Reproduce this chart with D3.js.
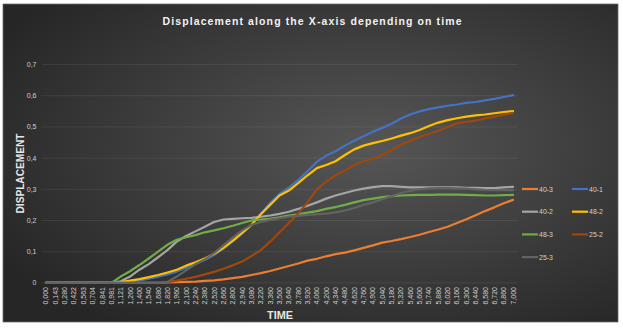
<!DOCTYPE html>
<html>
<head>
<meta charset="utf-8">
<script src="https://cdn.jsdelivr.net/npm/d3@7"></script>
<style>
  html, body { margin: 0; padding: 0; background: #ffffff; }
  svg { display: block; }
</style>
</head>
<body>
<div id="chart"></div>
<script>
// Displacement along the X-axis depending on time

const timeLabels = ['0,000','0,143','0,280','0,422','0,563','0,704','0,841','0,981','1,121','1,260',
    '1,400','1,540','1,680','1,820','1,960','2,100','2,240','2,380','2,520','2,660',
    '2,800','2,940','3,080','3,220','3,360','3,500','3,640','3,780','3,920','4,060',
    '4,200','4,340','4,480','4,620','4,760','4,900','5,040','5,180','5,320','5,460',
    '5,600','5,740','5,880','6,020','6,160','6,300','6,440','6,580','6,720','6,860','7,000'];

const yTicks = [0, 0.1, 0.2, 0.3, 0.4, 0.5, 0.6, 0.7];

const s40_3 = [0,0,0,0,0,0,0,0,0,0, 0,0,0,0.001,0.002,0.003,0.004,0.006,0.008,0.011,
    0.015,0.019,0.025,0.031,0.038,0.046,0.054,0.062,0.071,0.077, 0.085,0.092,0.097,0.104,0.112,0.12,0.129,0.134,0.14,0.147,
    0.154,0.163,0.171,0.18,0.192,0.204,0.217,0.23,0.242,0.255,0.266];
const s40_1 = [0,0,0,0,0,0,0,0,0,0.004, 0.008,0.013,0.02,0.027,0.036,0.048,0.06,0.073,0.09,0.11,
    0.133,0.158,0.187,0.222,0.256,0.285,0.305,0.33,0.358,0.388, 0.408,0.422,0.44,0.456,0.47,0.485,0.497,0.51,0.527,0.54,
    0.55,0.557,0.563,0.568,0.572,0.577,0.58,0.585,0.59,0.596,0.602];
const s40_2 = [0,0,0,0,0,0,0,0,0.005,0.02, 0.042,0.06,0.082,0.105,0.132,0.15,0.165,0.18,0.195,0.203,
    0.205,0.207,0.208,0.212,0.216,0.221,0.228,0.237,0.247,0.258, 0.27,0.28,0.288,0.296,0.302,0.307,0.31,0.31,0.308,0.306,
    0.306,0.306,0.306,0.306,0.306,0.305,0.305,0.304,0.304,0.306,0.308];
const s48_2 = [0,0,0,0,0,0,0,0,0.002,0.007, 0.012,0.018,0.025,0.033,0.042,0.055,0.066,0.078,0.093,0.112,
    0.135,0.16,0.186,0.22,0.25,0.28,0.296,0.32,0.345,0.368, 0.378,0.39,0.41,0.428,0.44,0.448,0.455,0.463,0.472,0.48,
    0.49,0.503,0.514,0.522,0.528,0.533,0.537,0.54,0.544,0.548,0.551];
const s48_3 = [0,0,0,0,0,0,0,0,0.02,0.037, 0.057,0.078,0.1,0.122,0.138,0.146,0.153,0.162,0.168,0.175,
    0.183,0.192,0.2,0.203,0.205,0.21,0.216,0.22,0.225,0.23, 0.237,0.243,0.25,0.258,0.265,0.27,0.275,0.278,0.28,0.281,
    0.282,0.282,0.283,0.283,0.283,0.282,0.281,0.28,0.28,0.281,0.282];
const s25_2 = [0,0,0,0,0,0,0,0,0,0, 0,0,0,0.002,0.007,0.013,0.019,0.027,0.035,0.045,
    0.056,0.068,0.086,0.105,0.132,0.162,0.192,0.222,0.258,0.3, 0.325,0.345,0.36,0.378,0.39,0.398,0.41,0.425,0.443,0.456,
    0.468,0.478,0.488,0.5,0.512,0.516,0.52,0.527,0.533,0.539,0.545];
const s25_3 = [0,0,0,0,0,0,0,0,0,0, 0,0,0,0.003,0.02,0.04,0.06,0.075,0.095,0.12,
    0.145,0.168,0.186,0.195,0.202,0.207,0.212,0.215,0.218,0.22, 0.222,0.226,0.232,0.24,0.25,0.258,0.268,0.278,0.288,0.295,
    0.3,0.303,0.304,0.304,0.303,0.302,0.3,0.298,0.297,0.297,0.297];

const seriesNames = ['40-3', '40-1', '40-2', '48-2', '48-3', '25-2', '25-3'];
const seriesValues = [s40_3, s40_1, s40_2, s48_2, s48_3, s25_2, s25_3];
const seriesColors = ['#ED7D31', '#4472C4', '#A5A5A5', '#FFC000', '#70AD47', '#9E480E', '#636363'];

function drawChart() {
    const width = 623, height = 328;
    const svg = d3.select('#chart').append('svg')
        .attr('width', width)
        .attr('height', height);

    const defs = svg.append('defs');
    const grad = defs.append('radialGradient')
        .attr('id', 'bg')
        .attr('cx', '60%').attr('cy', '45%').attr('r', '70%');
    grad.append('stop').attr('offset', '0%').attr('stop-color', '#565656');
    grad.append('stop').attr('offset', '100%').attr('stop-color', '#262626');

    // chart area
    svg.append('rect')
        .attr('x', 3).attr('y', 4)
        .attr('width', 615).attr('height', 318)
        .attr('fill', 'url(#bg)')
        .attr('stroke', '#6b6b6b')
        .attr('stroke-width', 0.75);

    const x = d3.scalePoint()
        .domain(timeLabels)
        .range([41.3, 517.7])
        .padding(0.5);

    const y = d3.scaleLinear()
        .domain([0, 0.7])
        .range([282.8, 64.6]);

    // gridlines
    svg.append('g')
        .selectAll('line')
        .data(yTicks)
        .join('line')
        .attr('x1', 41.3).attr('x2', 517.7)
        .attr('y1', d => y(d)).attr('y2', d => y(d))
        .attr('stroke', '#d9d9d9')
        .attr('stroke-opacity', 0.13)
        .attr('stroke-width', 0.75);

    // y tick labels
    svg.append('g')
        .selectAll('text')
        .data(yTicks)
        .join('text')
        .attr('x', 36.5)
        .attr('y', d => y(d) + 2.5)
        .attr('text-anchor', 'end')
        .attr('fill', '#d0d0d0')
        .attr('font-family', 'Liberation Sans, Arial, sans-serif')
        .attr('font-size', '7px')
        .text(d => d === 0 ? '0' : String(d).replace('.', ','));

    // x tick labels (rotated)
    svg.append('g')
        .selectAll('text')
        .data(timeLabels)
        .join('text')
        .attr('transform', d => `translate(${x(d) + 2.5},${287}) rotate(-90)`)
        .attr('text-anchor', 'end')
        .attr('fill', '#d0d0d0')
        .attr('font-family', 'Liberation Sans, Arial, sans-serif')
        .attr('font-size', '7px')
        .text(d => d);

    // lines
    const line = d3.line()
        .x((d, i) => x(timeLabels[i]))
        .y(d => y(d));

    svg.append('g')
        .selectAll('path')
        .data(seriesValues)
        .join('path')
        .attr('d', d => line(d))
        .attr('fill', 'none')
        .attr('stroke', (d, i) => seriesColors[i])
        .attr('stroke-width', 2.2)
        .attr('stroke-linejoin', 'round')
        .attr('stroke-linecap', 'round');

    // title
    svg.append('text')
        .attr('x', 312)
        .attr('y', 25)
        .attr('text-anchor', 'middle')
        .attr('fill', '#f2f2f2')
        .attr('font-family', 'Liberation Sans, Arial, sans-serif')
        .attr('font-weight', 'bold')
        .attr('font-size', '10.5px')
        .attr('textLength', 299)
        .attr('lengthAdjust', 'spacing')
        .text('Displacement along the X-axis depending on time');

    // axis titles
    svg.append('text')
        .attr('transform', 'translate(24,173.5) rotate(-90)')
        .attr('text-anchor', 'middle')
        .attr('fill', '#e6e6e6')
        .attr('font-family', 'Liberation Sans, Arial, sans-serif')
        .attr('font-weight', 'bold')
        .attr('font-size', '10.5px')
        .attr('textLength', 80)
        .attr('lengthAdjust', 'spacingAndGlyphs')
        .text('DISPLACEMENT');

    svg.append('text')
        .attr('x', 280)
        .attr('y', 319)
        .attr('text-anchor', 'middle')
        .attr('fill', '#e6e6e6')
        .attr('font-family', 'Liberation Sans, Arial, sans-serif')
        .attr('font-weight', 'bold')
        .attr('font-size', '11px')
        .attr('textLength', 26)
        .attr('lengthAdjust', 'spacingAndGlyphs')
        .text('TIME');

    // legend: two columns, row-wise
    const legend = svg.append('g')
        .selectAll('g')
        .data(seriesNames)
        .join('g')
        .attr('transform', (d, i) => `translate(${522 + (i % 2) * 50},${189 + Math.floor(i / 2) * 22.7})`);

    legend.append('line')
        .attr('x1', 0).attr('x2', 16)
        .attr('stroke', (d, i) => seriesColors[i])
        .attr('stroke-width', 2.2);

    legend.append('text')
        .attr('x', 17)
        .attr('y', 2.5)
        .attr('fill', '#d0d0d0')
        .attr('font-family', 'Liberation Sans, Arial, sans-serif')
        .attr('font-size', '7px')
        .text(d => d);
}

drawChart();
</script>
</body>
</html>
